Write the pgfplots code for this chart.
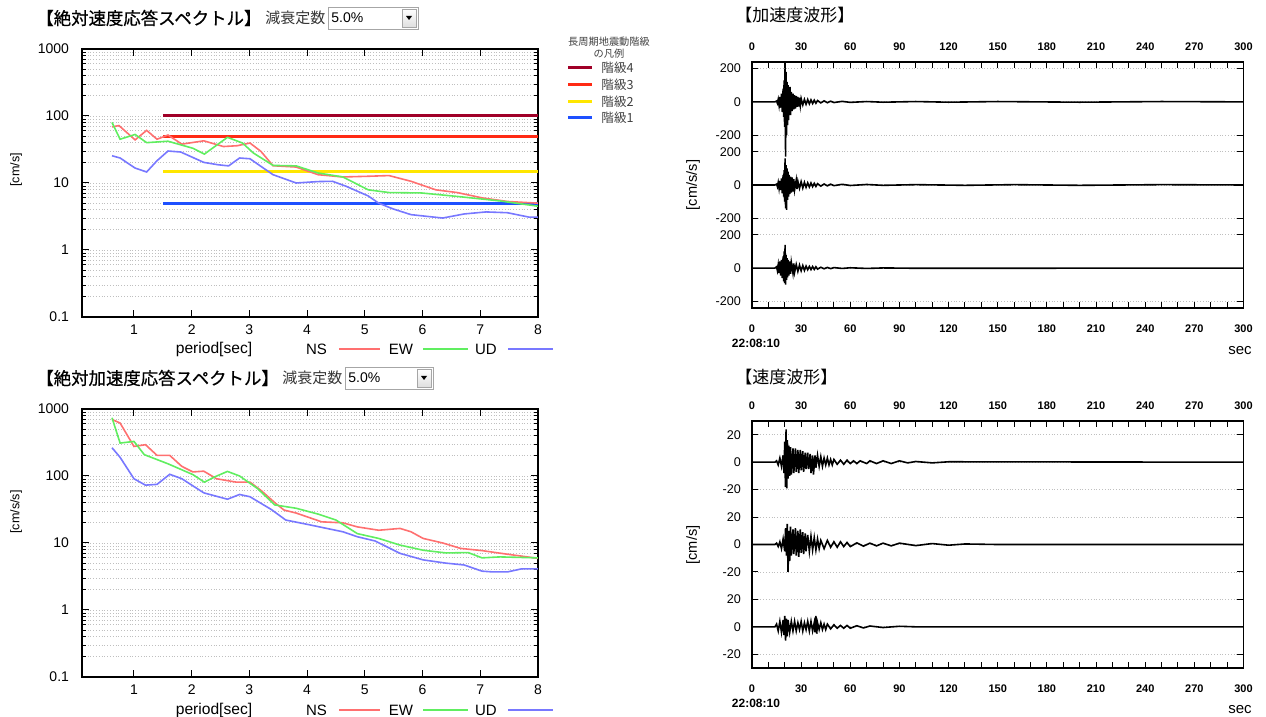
\documentclass[border=0pt]{standalone}
\usepackage{fontspec}
\setmainfont{Liberation Sans}
\newfontfamily\jp{Noto Sans CJK JP}
\newfontfamily\jpb{Noto Sans CJK JP}[FakeBold=0.6]
\usepackage{pgfplots}
\pgfplotsset{compat=1.18}

\definecolor{nsc}{HTML}{FF7070}
\definecolor{ewc}{HTML}{60EE60}
\definecolor{udc}{HTML}{7878FF}
\definecolor{lv4}{HTML}{A00028}
\definecolor{lv3}{HTML}{FF2A14}
\definecolor{lv2}{HTML}{FFE600}
\definecolor{lv1}{HTML}{1E50FF}

\pgfplotsset{
  spec/.style={
    scale only axis, width=228pt, height=134pt,
    xmin=0.1, xmax=8, ymin=0.1, ymax=1000,
    xtick={1,2,3,4,5,6,7,8},
    ytick={0.1,1,10,100,1000},
    yticklabels={0.1,1,10,100,1000},
    minor ytick={0.2,0.3,0.4,0.5,0.6,0.7,0.8,0.9,2,3,4,5,6,7,8,9,20,30,40,50,60,70,80,90,200,300,400,500,600,700,800,900},
    tick align=inside,
    major tick length=3.5pt, minor tick length=2pt,
    every tick/.style={black, line width=0.5pt},
    ymajorgrids, yminorgrids,
    major grid style={densely dotted, gray!50, line width=0.4pt},
    minor grid style={densely dotted, gray!50, line width=0.4pt},
    axis line style={black, line width=0.7pt},
    /pgf/number format/assume math mode=true,
    tick label style={font=\fontsize{7}{8}\selectfont},
    xticklabel style={yshift=-2.5pt, inner sep=1pt},
    yticklabel style={xshift=-3pt},
  },
  wave/.style={
    scale only axis, width=245.75pt,
    xmin=0, xmax=300,
    xtick={0,30,...,300}, minor x tick num=2,
    tick align=inside,
    major tick length=3pt, minor tick length=3pt,
    every tick/.style={black, line width=0.5pt},
    ymajorgrids, major grid style={densely dotted, gray!50, line width=0.4pt},
    axis line style={black, line width=0.7pt},
    /pgf/number format/assume math mode=true,
    xticklabel style={font=\bfseries\fontsize{5.5}{6}\selectfont, yshift=-5pt},
    yticklabel style={font=\fontsize{6.3}{7}\selectfont, xshift=-2pt},
    clip=false,
  },
  trace/.style={black, line width=0.8pt},
}

\begin{document}
\begin{tikzpicture}
\path[use as bounding box] (0,0) rectangle (633pt,-358.5pt);

% ---------- velocity response spectrum ----------
\begin{axis}[ymode=log, spec, at={(41pt,-158.5pt)}, anchor=south west]
\addplot[lv4, line width=1.5pt, forget plot] coordinates {(1.5,100) (8,100)};
\addplot[lv3, line width=1.5pt, forget plot] coordinates {(1.5,50) (8,50)};
\addplot[lv2, line width=1.5pt, forget plot] coordinates {(1.5,15) (8,15)};
\addplot[lv1, line width=1.5pt, forget plot] coordinates {(1.5,5) (8,5)};
% NS
\addplot[nsc, line width=0.8pt] coordinates {
 (0.62,68.6) (0.74,72) (1.02,44) (1.22,61) (1.40,45) (1.59,52) (1.83,38)
 (2.21,42.6) (2.55,35) (2.79,36) (3.01,39.5) (3.2,29.6) (3.41,18.1)
 (3.81,17.3) (4.19,13.3) (4.62,12.3) (5.06,12.6) (5.42,12.9) (5.8,10.6)
 (6.23,7.9) (6.6,7.2) (7.03,6.0) (7.47,5.3) (8.0,5.0)};
% EW
\addplot[ewc, line width=0.8pt] coordinates {
 (0.62,80) (0.76,45) (1.02,53) (1.22,40) (1.59,42) (2.02,33) (2.22,27)
 (2.62,48) (2.88,39.5) (3.07,28) (3.41,18.3) (3.81,18) (4.19,14.1)
 (4.62,12.3) (5.06,7.9) (5.42,7.2) (5.98,7.1) (6.6,6.3) (7.34,5.4) (8.0,4.5)};
% UD
\addplot[udc, line width=0.8pt] coordinates {
 (0.62,25.5) (0.76,23.6) (1.02,16.7) (1.22,14.6) (1.40,21.5) (1.59,30)
 (1.81,29) (2.21,20.3) (2.46,18.7) (2.64,18) (2.83,23.6) (3.01,23)
 (3.2,17.7) (3.41,13.3) (3.81,10) (4.19,10.5) (4.44,10.6) (4.68,8.9)
 (5.06,6.4) (5.24,5.0) (5.49,4.1) (5.8,3.37) (6.1,3.16) (6.35,3.0)
 (6.72,3.45) (7.1,3.7) (7.47,3.6) (7.84,3.1) (8.0,3.1)};
\end{axis}

% ---------- acceleration response spectrum ----------
\begin{axis}[ymode=log, spec, at={(41pt,-338.5pt)}, anchor=south west]
% NS
\addplot[nsc, line width=0.8pt] coordinates {
 (0.62,698) (0.76,617) (1.0,276) (1.2,293) (1.40,203) (1.62,203) (1.83,139)
 (2.02,115) (2.21,118) (2.43,91) (2.77,81) (3.01,81) (3.2,61) (3.44,40)
 (3.6,31) (3.81,28) (4.25,20.7) (4.62,20) (4.87,17.4) (5.24,15.5)
 (5.61,16.5) (5.8,14.7) (6.01,11.7) (6.35,10) (6.66,8.3) (7.03,7.7)
 (7.47,6.8) (8.0,5.9)};
% EW
\addplot[ewc, line width=0.8pt] coordinates {
 (0.62,740) (0.76,310) (1.0,328) (1.18,208) (1.59,152) (2.02,105) (2.22,81)
 (2.40,97) (2.62,117) (2.83,100) (3.14,65) (3.44,37) (3.81,33) (4.19,27)
 (4.5,22) (4.87,13.8) (5.24,11.7) (5.61,9.3) (6.01,7.8) (6.41,7.1)
 (6.79,7.2) (7.03,6.0) (7.34,6.2) (8.0,6.0)};
% UD
\addplot[udc, line width=0.8pt] coordinates {
 (0.62,264) (0.76,190) (1.0,91) (1.2,73) (1.40,75) (1.62,106) (1.83,91)
 (2.21,56) (2.62,45) (2.83,53) (3.01,49) (3.38,31.6) (3.63,22) (4.0,19)
 (4.62,14.7) (4.87,12.4) (5.18,10.7) (5.61,7.0) (6.01,5.6) (6.41,5.0)
 (6.72,4.7) (7.03,3.8) (7.22,3.7) (7.47,3.7) (7.71,4.1) (8.0,4.1)};
\end{axis}

% ---------- acceleration waveform ----------
\begin{axis}[wave, height=123pt, ymin=-740, ymax=740,
  at={(376pt,-154pt)}, anchor=south west,
  ytick={-700,-500,-300,-200,0,200,300,500,700},
  yticklabels={-200,0,200,-200,0,200,-200,0,200}]
\addplot[trace] table[row sep=\\, x=t, y expr=\thisrow{a}+500] {
 t a\\ 0 0\\ 14 0\\ 15 5\\ 15.5 -8\\ 16 15\\ 16.5 -20\\ 17 30\\ 17.5 -35\\
 18 50\\ 18.5 -60\\ 19 80\\ 19.3 -90\\ 19.6 130\\ 19.9 -150\\ 20.2 235\\
 20.5 -330\\ 20.8 180\\ 21.1 -200\\ 21.4 120\\ 21.7 -140\\ 22 100\\ 22.3 -110\\
 22.6 80\\ 22.9 -70\\ 23.2 90\\ 23.5 -80\\ 24 60\\ 24.5 -55\\ 25 50\\ 25.5 -45\\
 26 40\\ 26.5 -40\\ 27 35\\ 27.5 -30\\ 28 30\\ 28.5 -28\\ 29 25\\ 29.5 -22\\
 30 20\\ 31 -18\\ 32 15\\ 33 -14\\ 34 14\\ 35 -12\\ 36 12\\ 37 -10\\ 38 10\\
 39 -8\\ 40 8\\ 42 -6\\ 44 6\\ 46 -5\\ 48 4\\ 50 -4\\ 55 3\\ 60 -3\\ 70 2\\
 80 -2\\ 100 2\\ 120 -2\\ 150 2\\ 200 -2\\ 250 2\\ 300 0\\};
\addplot[trace] table[row sep=\\, x=t, y=a] {
 t a\\ 0 0\\ 14 0\\ 15 5\\ 15.5 -10\\ 16 15\\ 16.5 -20\\ 17 25\\ 17.5 -30\\
 18 40\\ 18.5 -50\\ 19 60\\ 19.3 -70\\ 19.6 90\\ 19.9 -100\\ 20.2 160\\
 20.5 -140\\ 20.8 120\\ 21.1 -150\\ 21.4 100\\ 21.7 -90\\ 22 80\\ 22.3 -70\\
 22.6 60\\ 23 -55\\ 23.5 50\\ 24 -45\\ 24.5 45\\ 25 -40\\ 25.5 35\\ 26 -30\\
 27 30\\ 27.5 -25\\ 28 22\\ 29 -20\\ 30 20\\ 31 -18\\ 32 16\\ 33 -14\\ 34 13\\
 35 -12\\ 36 12\\ 37 -10\\ 38 10\\ 39 -9\\ 40 8\\ 42 -7\\ 44 6\\ 46 -5\\ 48 5\\
 50 -4\\ 55 4\\ 60 -3\\ 70 3\\ 80 -2\\ 100 2\\ 130 -2\\ 160 2\\ 200 -2\\
 250 2\\ 300 0\\};
\addplot[trace] table[row sep=\\, x=t, y expr=\thisrow{a}-500] {
 t a\\ 0 0\\ 14 0\\ 15 8\\ 15.5 -15\\ 16 20\\ 16.5 -30\\ 17 40\\ 17.5 -45\\
 18 50\\ 18.5 -60\\ 19 70\\ 19.3 -80\\ 19.6 100\\ 19.9 -90\\ 20.2 140\\
 20.5 -100\\ 20.8 80\\ 21.1 -70\\ 21.4 60\\ 21.7 -55\\ 22 50\\ 22.5 -45\\
 23 40\\ 23.5 -35\\ 24 35\\ 25 -30\\ 25.5 28\\ 26 -25\\ 27 22\\ 28 -20\\
 29 18\\ 30 -16\\ 31 15\\ 32 -14\\ 33 12\\ 34 -10\\ 35 10\\ 36 -9\\ 37 9\\
 38 -8\\ 39 8\\ 40 -6\\ 42 5\\ 44 -4\\ 46 4\\ 48 -3\\ 50 3\\ 55 -2\\ 60 2\\
 70 -2\\ 80 1\\ 100 -1\\ 300 0\\};
\pgfplotsinvokeforeach{0,30,60,90,120,150,180,210,240,270,300}{
  \node[font=\bfseries\fontsize{5.5}{6}\selectfont, yshift=7.5pt] at (axis cs:#1,740) {#1};}
\end{axis}

% ---------- velocity waveform ----------
\begin{axis}[wave, height=123.5pt, ymin=-90, ymax=90,
  at={(376pt,-334pt)}, anchor=south west,
  ytick={-80,-60,-40,-20,0,20,40,60,80},
  yticklabels={-20,0,20,-20,0,20,-20,0,20}]
\addplot[trace] table[row sep=\\, x=t, y expr=\thisrow{v}+60] {
 t v\\ 0 0\\ 14 0\\ 15 1\\ 16 -2\\ 17 3\\ 18 -3\\ 19 5\\ 19.5 -8\\ 20 15\\
 20.4 -18\\ 20.8 24\\ 21.2 -19\\ 21.6 16\\ 22 -12\\ 22.5 12\\ 23 -10\\
 23.5 11\\ 24 -9\\ 25 10\\ 25.5 -8\\ 26.5 10\\ 27 -7\\ 28 9\\ 28.5 -8\\
 29.5 9\\ 30 -6\\ 31 8\\ 31.5 -7\\ 32.5 7\\ 33 -5\\ 34 7\\ 34.5 -5\\ 35.5 6\\
 36 -8\\ 37 5\\ 37.5 -9\\ 38.5 5\\ 39 -4\\ 40 5\\ 41 -3\\ 42 4\\ 43 -3\\
 44 3\\ 45 -2\\ 46 3\\ 47 -2\\ 48 2\\ 49 -2\\ 50 2\\ 52 -1.5\\ 54 1.5\\
 56 -1.5\\ 58 1.5\\ 60 -1\\ 62 1\\ 64 -1\\ 66 1\\ 70 -1\\ 72 1\\ 76 -1\\
 80 1\\ 85 -1\\ 90 1\\ 95 -0.5\\ 100 0.5\\ 110 -0.5\\ 120 0.3\\ 300 0\\};
\addplot[trace] table[row sep=\\, x=t, y=v] {
 t v\\ 0 0\\ 14 0\\ 15 1\\ 16 -1.5\\ 17 2\\ 18 -3\\ 19 4\\ 20 -5\\ 20.5 12\\
 21 -8\\ 21.5 15\\ 22 -20\\ 22.5 10\\ 23 -12\\ 23.5 13\\ 24 -8\\ 25 11\\
 25.5 -7\\ 26.5 12\\ 27 -8\\ 28 10\\ 28.5 -9\\ 29.5 11\\ 30 -6\\ 31 9\\
 31.5 -7\\ 32.5 8\\ 33 -5\\ 34 7\\ 35 -5\\ 36 6\\ 37 -4\\ 38 5\\ 39 -4\\
 40 4\\ 41 -3\\ 42 3\\ 44 -3\\ 46 3\\ 48 -2\\ 50 2\\ 52 -2\\ 54 2\\ 56 -1.5\\
 58 1.5\\ 60 -1.5\\ 64 1.2\\ 68 -1.2\\ 72 1\\ 76 -1\\ 80 1\\ 85 -1\\ 90 1\\
 100 -0.8\\ 110 0.7\\ 120 -0.5\\ 130 0.4\\ 150 0\\ 300 0\\};
\addplot[trace] table[row sep=\\, x=t, y expr=\thisrow{v}-60] {
 t v\\ 0 0\\ 14 0\\ 15 2\\ 16 -3\\ 17 4\\ 18 -4\\ 19 5\\ 19.5 -6\\ 20 8\\
 20.5 -10\\ 21 6\\ 21.5 -7\\ 22 5\\ 23 -4\\ 24 4\\ 25 -3\\ 26 4\\ 27 -3\\
 28 3\\ 29 -2\\ 30 4\\ 31 -3\\ 32 3\\ 33 -2\\ 34 4\\ 35 -3\\ 36 4\\ 37 -3\\
 38 3\\ 38.5 -4\\ 39 8\\ 39.5 -5\\ 40 3\\ 41 -2\\ 42 3\\ 43 -2\\ 44 2\\
 45 -2\\ 46 2\\ 48 -1.5\\ 50 1.5\\ 52 -1\\ 54 1\\ 56 -1\\ 58 1\\ 60 -1\\
 64 0.8\\ 68 -0.8\\ 72 0.6\\ 80 -0.5\\ 90 0.4\\ 100 0\\ 300 0\\};
\pgfplotsinvokeforeach{0,30,60,90,120,150,180,210,240,270,300}{
  \node[font=\bfseries\fontsize{5.5}{6}\selectfont, yshift=7.5pt] at (axis cs:#1,90) {#1};}
\end{axis}

% ---------- texts, legends and controls (pixel units) ----------
\begin{scope}[x=0.5pt, y=-0.5pt]
 % titles
 \node[anchor=west, inner sep=0, font=\jpb\fontsize{8.7}{10}\selectfont] at (36,18) {【絶対速度応答スペクトル】};
 \node[anchor=west, inner sep=0, font=\jp\fontsize{7.5}{9}\selectfont, text=black!80] at (265,18) {減衰定数};
 \draw[gray!70, fill=white] (328,7) rectangle (418,29);
 \node[anchor=west, inner sep=0, font=\fontsize{7}{8}\selectfont] at (331,18) {5.0\%};
 \shade[top color=white, bottom color=gray!25, draw=gray!70] (402,9) rectangle (416,27);
 \fill[black] (406,16) -- (412,16) -- (409,20) -- cycle;

 \node[anchor=west, inner sep=0, font=\jpb\fontsize{8.7}{10}\selectfont] at (36,378) {【絶対加速度応答スペクトル】};
 \node[anchor=west, inner sep=0, font=\jp\fontsize{7.5}{9}\selectfont, text=black!80] at (282,378) {減衰定数};
 \draw[gray!70, fill=white] (345,367) rectangle (433,389);
 \node[anchor=west, inner sep=0, font=\fontsize{7}{8}\selectfont] at (348,378) {5.0\%};
 \shade[top color=white, bottom color=gray!25, draw=gray!70] (417,369) rectangle (431,387);
 \fill[black] (421,376) -- (427,376) -- (424,380) -- cycle;

 \node[anchor=west, inner sep=0, font=\jp\fontsize{8.5}{10}\selectfont] at (735,15) {【加速度波形】};
 \node[anchor=west, inner sep=0, font=\jp\fontsize{8.5}{10}\selectfont] at (735,377) {【速度波形】};

 % y labels
 \node[rotate=90, font=\fontsize{6.3}{8}\selectfont] at (16,170) {[cm/s]};
 \node[rotate=90, font=\fontsize{6.3}{8}\selectfont] at (16,512) {[cm/s/s]};
 \node[rotate=90, font=\fontsize{7.3}{9}\selectfont] at (693,185) {[cm/s/s]};
 \node[rotate=90, font=\fontsize{7.3}{9}\selectfont] at (693,545) {[cm/s]};

 % spectrum legends
 \foreach \yy in {349,710} {
  \node[inner sep=0, font=\fontsize{7.8}{9}\selectfont] at (214,\yy) {period[sec]};
  \node[inner sep=0, font=\fontsize{7.5}{9}\selectfont] at (316.5,\yy) {NS};
  \draw[nsc, line width=0.8pt] (339,\yy) -- (380,\yy);
  \node[inner sep=0, font=\fontsize{7.5}{9}\selectfont] at (401,\yy) {EW};
  \draw[ewc, line width=0.8pt] (423,\yy) -- (468,\yy);
  \node[inner sep=0, font=\fontsize{7.5}{9}\selectfont] at (486,\yy) {UD};
  \draw[udc, line width=0.8pt] (508,\yy) -- (553,\yy);
 }

 % level legend
 \node[font=\jp\fontsize{5.1}{6}\selectfont, text=black!75, align=center, inner sep=0] at (609,48) {長周期地震動階級\\の凡例};
 \draw[lv4, line width=1.5pt] (568,68) -- (592,68);
 \draw[lv3, line width=1.5pt] (568,85) -- (592,85);
 \draw[lv2, line width=1.5pt] (568,102) -- (592,102);
 \draw[lv1, line width=1.5pt] (568,118) -- (592,118);
 \node[anchor=west, inner sep=0, font=\jp\fontsize{6.3}{7}\selectfont, text=black!75] at (601,68) {階級4};
 \node[anchor=west, inner sep=0, font=\jp\fontsize{6.3}{7}\selectfont, text=black!75] at (601,85) {階級3};
 \node[anchor=west, inner sep=0, font=\jp\fontsize{6.3}{7}\selectfont, text=black!75] at (601,102) {階級2};
 \node[anchor=west, inner sep=0, font=\jp\fontsize{6.3}{7}\selectfont, text=black!75] at (601,118) {階級1};

 % waveform time labels
 \node[font=\bfseries\fontsize{6}{7}\selectfont] at (756,343) {22:08:10};
 \node[font=\fontsize{7.5}{9}\selectfont] at (1240,351) {sec};
 \node[font=\bfseries\fontsize{6}{7}\selectfont] at (756,703) {22:08:10};
 \node[font=\fontsize{7.5}{9}\selectfont] at (1240,710) {sec};
\end{scope}
\end{tikzpicture}
\end{document}
